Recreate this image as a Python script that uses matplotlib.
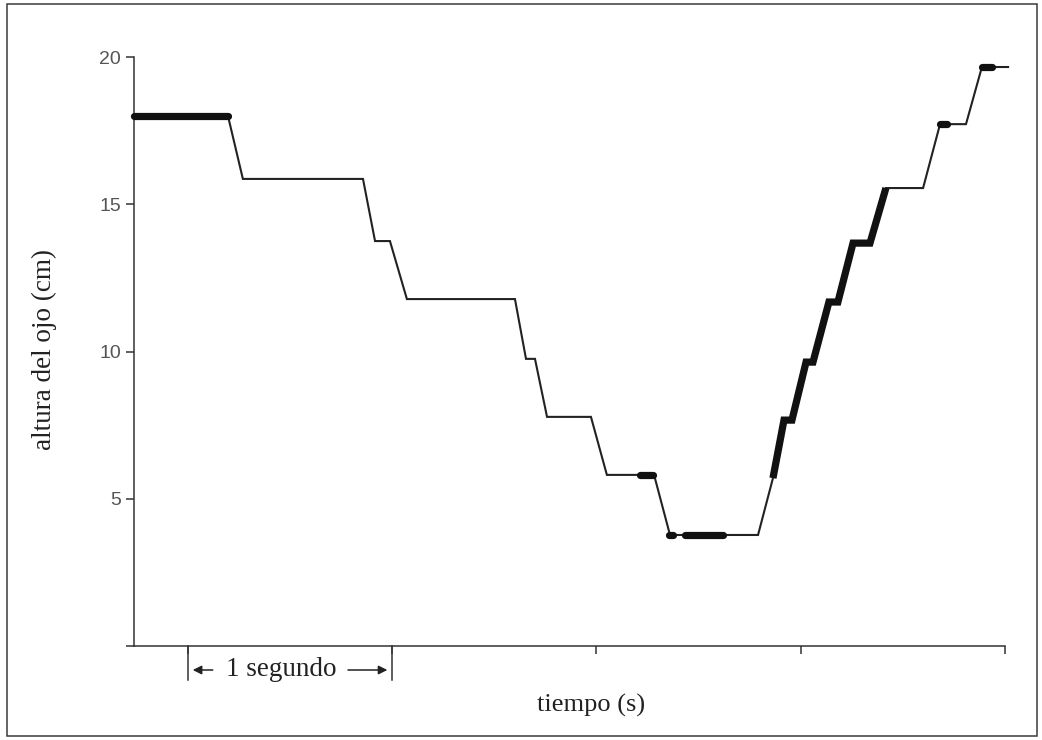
import matplotlib
matplotlib.use("Agg")
import matplotlib.pyplot as plt
from matplotlib.patches import Rectangle

# ---- data (time in s, eye height in cm) ----
trace_t = [-0.264, 0.196, 0.269, 0.857, 0.916, 0.989, 1.072, 1.601, 1.655, 1.699,
           1.758, 1.973, 2.051, 2.282, 2.360, 2.791, 2.864, 2.918, 2.957, 3.026,
           3.060, 3.138, 3.182, 3.256, 3.339, 3.417, 3.599, 3.682, 3.809, 3.887, 4.015]
trace_h = [18.0, 18.0, 15.86, 15.86, 13.75, 13.75, 11.78, 11.78, 9.75, 9.75,
           7.78, 7.78, 5.81, 5.81, 3.77, 3.77, 5.70, 7.67, 7.67, 9.64,
           9.64, 11.68, 11.68, 13.68, 13.68, 15.55, 15.55, 17.72, 17.72, 19.66, 19.66]

# emphasised (thick) stretches of the trace
thick1_t = [-0.264, 0.196];  thick1_h = [18.0, 18.0]
thick2_t = [2.213, 2.277];   thick2_h = [5.81, 5.81]
thick3_t = [2.356, 2.376];   thick3_h = [3.77, 3.77]
thick4_t = [2.433, 2.619];   thick4_h = [3.77, 3.77]
thick5_t = [2.864, 2.918, 2.957, 3.026, 3.060, 3.138, 3.182, 3.256, 3.339, 3.417]
thick5_h = [5.70, 7.67, 7.67, 9.64, 9.64, 11.68, 11.68, 13.68, 13.68, 15.55]
thick6_t = [3.682, 3.716];   thick6_h = [17.72, 17.72]
thick7_t = [3.887, 3.936];   thick7_h = [19.66, 19.66]

yticks = [0, 5, 10, 15, 20]
ytick_labels = ["", "5", "10", "15", "20"]
xticks = [0, 1, 2, 3, 4]

W, H = 1042, 740
fig = plt.figure(figsize=(W / 100, H / 100), dpi=100)
fig.patch.set_facecolor("white")

# outer frame
fig.patches.append(Rectangle((7 / W, 4 / H), (1037 - 7) / W, (736 - 4) / H,
                             transform=fig.transFigure, fill=False,
                             edgecolor="#3a3a3a", linewidth=1.1, zorder=0))

left, right, top, bottom = 134, 1005, 57, 646
ax = fig.add_axes([left / W, 1 - bottom / H, (right - left) / W, (bottom - top) / H])
ax.set_xlim(-0.264, 4.0)
ax.set_ylim(0, 20)

ink = "#222222"
ax.plot(trace_t, trace_h, color=ink, lw=1.5, solid_joinstyle="miter", clip_on=False, zorder=3)
for tt, hh in [(thick1_t, thick1_h), (thick2_t, thick2_h), (thick3_t, thick3_h),
               (thick4_t, thick4_h), (thick6_t, thick6_h), (thick7_t, thick7_h)]:
    ax.plot(tt, hh, color="#111111", lw=5.2, solid_capstyle="round", clip_on=False, zorder=4)
ax.plot(thick5_t, thick5_h, color="#111111", lw=5.2, solid_capstyle="butt",
        solid_joinstyle="miter", clip_on=False, zorder=4)

for s in ["top", "right"]:
    ax.spines[s].set_visible(False)
for s in ["left", "bottom"]:
    ax.spines[s].set_color("#333333")
    ax.spines[s].set_linewidth(1.1)

ax.set_yticks(yticks)
ax.set_yticklabels(ytick_labels)
ax.set_xticks(xticks)
ax.set_xticklabels([])
ax.tick_params(axis="both", direction="out", length=5.5, width=1.1, color="#333333")
ax.tick_params(axis="y", labelsize=14, labelcolor="#555555", pad=4)
for lab in ax.get_yticklabels():
    lab.set_family(["Liberation Sans", "DejaVu Sans"])

serif = ["Liberation Serif", "DejaVu Serif"]
ax.set_ylabel("altura del ojo (cm)", fontsize=19.5, family=serif, color="#222222")
ax.set_xlabel("tiempo (s)", fontsize=19, family=serif, color="#222222")
ax.xaxis.set_label_coords((591 - left) / (right - left), -(694 - bottom) / (bottom - top))
ax.yaxis.set_label_coords(-(left - 57) / (right - left), (bottom - 350) / (bottom - top))

# "1 segundo" scale bar under the axis
tr = ax.get_xaxis_transform()
y_bot = -(680 - bottom) / (bottom - top)
y_arr = -(670 - bottom) / (bottom - top)
for xv in [0, 1]:
    ax.plot([xv, xv], [0, y_bot], transform=tr, color="#333333", lw=1.1, clip_on=False)
ax.text(0.455, y_arr, "1 segundo", transform=tr, ha="center", va="center",
        fontsize=19.5, family=serif, color="#222222")
ax.annotate("", xy=(0.01, y_arr), xytext=(0.135, y_arr), xycoords=tr, textcoords=tr,
            arrowprops=dict(arrowstyle="-|>", color="#222222", lw=1.1, mutation_scale=13))
ax.annotate("", xy=(0.99, y_arr), xytext=(0.77, y_arr), xycoords=tr, textcoords=tr,
            arrowprops=dict(arrowstyle="-|>", color="#222222", lw=1.1, mutation_scale=13))

fig.savefig("out.png", dpi=100, facecolor="white")
